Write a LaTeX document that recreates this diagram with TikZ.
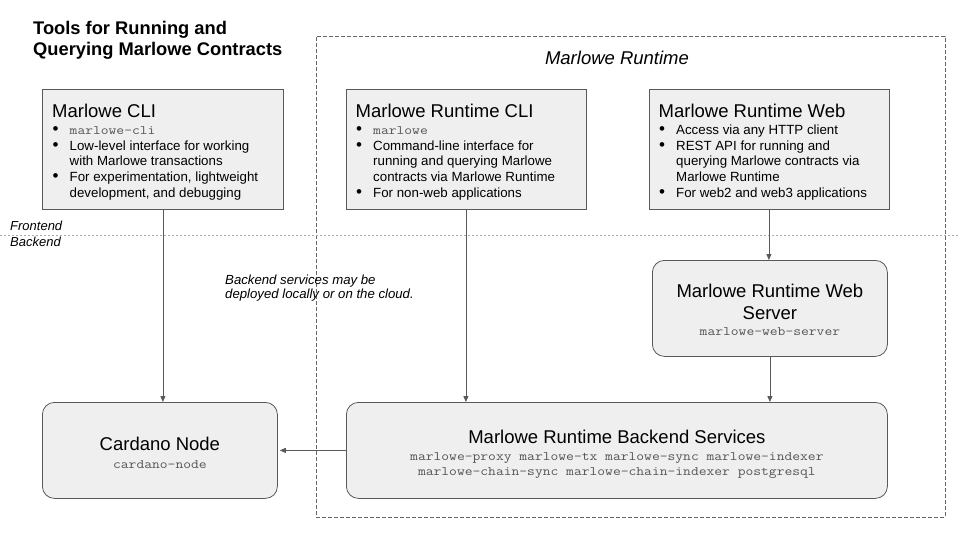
\documentclass[tikz,border=0pt]{standalone}
\usepackage{fontspec}
\setmainfont{Liberation Sans}
\newfontfamily\courlike{Latin Modern Mono}[FakeStretch=1.165]
\usetikzlibrary{arrows.meta}
\definecolor{boxfill}{HTML}{EFEFEF}
\definecolor{boxline}{HTML}{595959}
\definecolor{monogray}{HTML}{555555}
\definecolor{arrowgray}{HTML}{595959}
\definecolor{dashgray}{HTML}{666666}
\definecolor{dotgray}{HTML}{AAAAAA}
\newcommand\ttlfont{\fontsize{18.5}{22}\selectfont}
\newcommand\bodyfont{\fontsize{13.3}{15.8}\selectfont}
\newcommand\monotxt[1]{{\courlike\fontsize{13}{15}\selectfont\color{monogray}#1}}
\newcommand\bul{\makebox[17.5pt][l]{\hspace{0.5pt}{\fontsize{17}{15}\selectfont\textbullet}}}
\newcommand\ind{\hspace*{17.5pt}}
\begin{document}
\begin{tikzpicture}[x=1pt,y=-1pt,
  sqbox/.style={draw=boxline, fill=boxfill, line width=0.8pt, inner sep=0pt},
  rbox/.style={sqbox, rounded corners=12pt},
  btxt/.style={inner sep=0pt, align=left, font=\bodyfont, anchor=west},
  ctxt/.style={inner sep=0pt, align=center},
  conn/.style={draw=arrowgray, line width=0.8pt, -{Triangle[length=6pt,width=5pt]}}
]
\useasboundingbox (0,0) rectangle (960,540);
\fill[white] (0,0) rectangle (960,540);

% runtime container
\node[draw=dashgray, line width=0.8pt, dash pattern=on 4pt off 2pt, inner sep=0pt,
      minimum width=629pt, minimum height=481pt, anchor=north west] (runtime) at (316,36) {};
\node[anchor=base, inner sep=0pt, font=\itshape\ttlfont] (rtlabel) at (617,64.6) {Marlowe Runtime};

% title
\node[anchor=north west, inner sep=0pt, align=left, font=\bfseries\fontsize{18.3}{21}\selectfont] (title) at (33,21)
  {Tools for Running and\\Querying Marlowe Contracts};

% frontend / backend divider
\draw[dotgray, line width=0.8pt, dash pattern=on 2pt off 2pt] (0,235) -- (960,235);
\node[anchor=base west, inner sep=0pt, font=\itshape\fontsize{13}{15}\selectfont] (fe) at (10,230.4) {Frontend};
\node[anchor=base west, inner sep=0pt, font=\itshape\fontsize{13}{15}\selectfont] (be) at (10,246.4) {Backend};

% frontend boxes
\node[sqbox, anchor=north west, minimum width=241pt, minimum height=120pt] (cli) at (42,89) {};
\node[btxt] (clitxt) at ([xshift=10pt,yshift=-2.7pt]cli.west)
  {{\ttlfont Marlowe CLI}\\[1.2pt]
   \bul\monotxt{marlowe-cli}\\
   \bul Low-level interface for working\\
   \ind with Marlowe transactions\\
   \bul For experimentation, lightweight\\
   \ind development, and debugging};

\node[sqbox, anchor=north west, minimum width=240pt, minimum height=120pt] (rcli) at (345.5,89) {};
\node[btxt] (rclitxt) at ([xshift=10pt,yshift=-2.7pt]rcli.west)
  {{\ttlfont Marlowe Runtime CLI}\\[1.2pt]
   \bul\monotxt{marlowe}\\
   \bul Command-line interface for\\
   \ind running and querying Marlowe\\
   \ind contracts via Marlowe Runtime\\
   \bul For non-web applications};

\node[sqbox, anchor=north west, minimum width=240pt, minimum height=120pt] (web) at (648.5,89) {};
\node[btxt] (webtxt) at ([xshift=10pt,yshift=-2.7pt]web.west)
  {{\ttlfont Marlowe Runtime Web}\\[1.2pt]
   \bul Access via any HTTP client\\
   \bul REST API for running and\\
   \ind querying Marlowe contracts via\\
   \ind Marlowe Runtime\\
   \bul For web2 and web3 applications};

% note
\node[anchor=north west, inner sep=0pt, align=left, font=\itshape\fontsize{13.2}{14.5}\selectfont] (note) at (225,274.4)
  {Backend services may be\\deployed locally or on the cloud.};

% backend boxes
\node[rbox, anchor=north west, minimum width=235pt, minimum height=96pt] (server) at (652,260) {};
\node[ctxt, font=\fontsize{13}{16}\selectfont] (servertxt) at ([yshift=-1.7pt]server.center)
  {{\ttlfont Marlowe Runtime Web}\\[5.7pt]
   {\ttlfont Server}\\
   \monotxt{marlowe-web-server}};

\node[rbox, anchor=north west, minimum width=235pt, minimum height=96pt] (cardano) at (42,402) {};
\node[ctxt, font=\fontsize{13}{16}\selectfont] (cardanotxt) at ([yshift=-2.8pt]cardano.center)
  {{\ttlfont Cardano Node}\\[2pt]
   \monotxt{cardano-node}};

\node[rbox, anchor=north west, minimum width=541pt, minimum height=96pt] (backend) at (346,402) {};
\node[ctxt, font=\fontsize{13}{15.5}\selectfont] (backendtxt) at ([yshift=-3.8pt]backend.center)
  {{\ttlfont Marlowe Runtime Backend Services}\\[1.7pt]
   \monotxt{marlowe-proxy marlowe-tx marlowe-sync marlowe-indexer}\\
   \monotxt{marlowe-chain-sync marlowe-chain-indexer postgresql}};

% connectors
\draw[conn] (cli.south) -- (cli.south |- cardano.north);
\draw[conn] (rcli.south) -- (rcli.south |- backend.north);
\draw[conn] (web.south) -- (web.south |- server.north);
\draw[conn] (server.south) -- (server.south |- backend.north);
\draw[conn, shorten >=2pt] (backend.west) -- (cardano.east);
\end{tikzpicture}
\end{document}
